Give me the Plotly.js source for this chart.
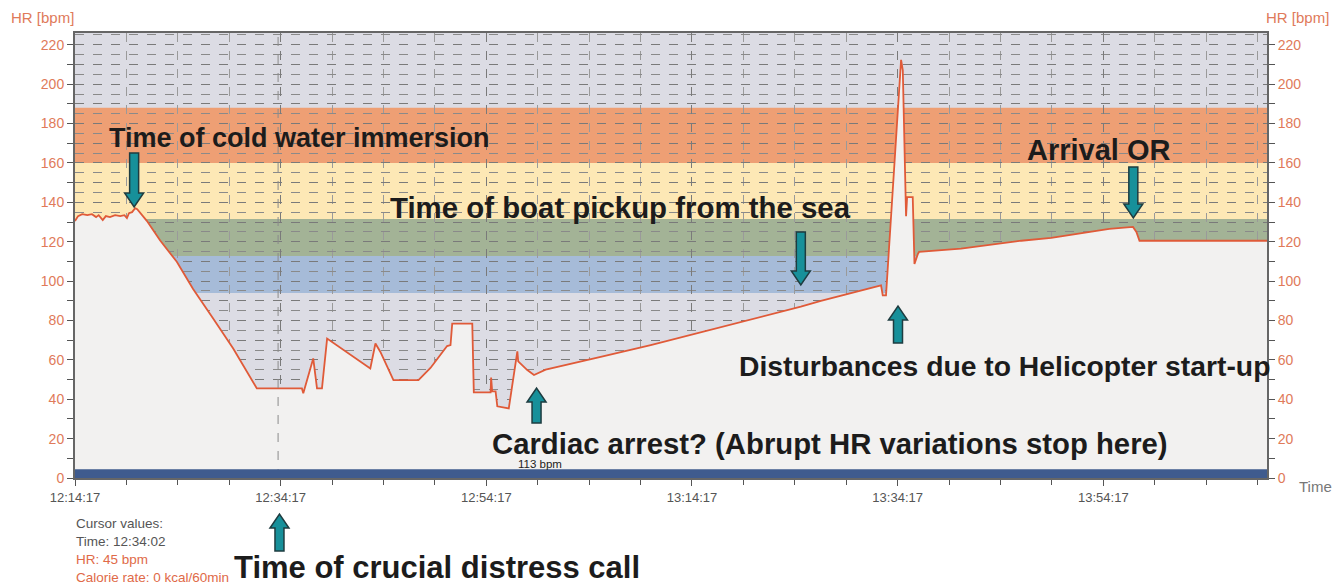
<!DOCTYPE html>
<html>
<head>
<meta charset="utf-8">
<script src="https://cdn.plot.ly/plotly-3.0.1.min.js"></script>
<style>html,body{margin:0;padding:0;background:#fff;}#chart{width:1336px;height:584px;}</style>
</head>
<body>
<div id="chart"></div>
<script>
// ---- data ----
const day = '2024-01-01 ';
const times = ['12:14:17','12:14:35','12:14:59','12:15:29','12:15:56','12:16:20','12:16:35','12:16:59','12:17:17','12:17:41','12:18:11','12:18:41','12:19:05','12:19:20','12:19:32','12:19:50','12:20:08','12:20:20',
 '12:21:16','12:22:34','12:24:11','12:25:46','12:27:43','12:29:40','12:31:58',
 '12:36:21','12:36:29','12:37:27','12:37:49','12:38:18','12:38:48','12:43:00','12:43:30','12:43:59','12:45:15','12:47:41','12:48:51',
 '12:50:28','12:50:48','12:50:58','12:52:55','12:53:00','12:53:04','12:54:42','12:54:45','12:54:51','12:55:11','12:55:21','12:56:28',
 '12:57:18','12:57:23','12:58:16','12:58:55','13:00:03',
 '13:03:27','13:05:24','13:10:16','13:15:09','13:20:01','13:24:52','13:26:49','13:29:45','13:32:40',
 '13:32:50','13:33:09','13:34:37','13:34:47','13:35:06','13:35:12','13:35:45','13:35:55','13:36:15','13:36:22',
 '13:40:27','13:46:18','13:49:13','13:53:07','13:54:52','13:57:10','13:57:30','13:57:48','14:10:17'];
const hr = [130.5,133,134,133.5,134,132.5,133.5,131,133,132.5,133.5,133,133.5,132,134.5,135,137,136.5,
 130.6,120.6,109.8,96,81,65.8,45.5,
 45.5,43,60.7,45.5,45.5,70.8,55.6,68.3,64,49.7,49.7,55.9,
 67,67.5,78.4,78.4,51.8,43.5,43.5,51,44,44,36.4,35.3,
 64.3,59.2,54.8,52.3,55,
 59,61.5,67.5,74,80.5,87,90,94,97.8,
 92.7,92.7,212.4,207,133,142.6,142.6,108.7,113.8,114.8,
 116.5,120.5,121.9,124.9,126.5,127.5,125,120.5,120.5];

// HR zones (bpm)
const zoneLow = [94, 112.8, 131.6, 160];
const zoneHigh = [112.8, 131.6, 160, 188];
const zoneColors = ['#a6bbd8', '#a3b396', '#fde8b5', '#ee9f74'];

// y tick labels
const yTickVals = [0,10,20,30,40,50,60,70,80,90,100,110,120,130,140,150,160,170,180,190,200,210,220];
const yTickText = yTickVals.map(v => v % 20 === 0 ? String(v) : '');

// annotated events
const eventTexts = ['Time of cold water immersion','Time of boat pickup from the sea','Arrival OR',
  'Disturbances due to Helicopter start-up','Cardiac arrest? (Abrupt HR variations stop here)','Time of crucial distress call'];
const eventTimes = ['12:20:02','13:24:52','13:57:12','13:34:19','12:59:10','12:34:10'];
const cursorTime = '12:34:02';

// ---- layout helpers (pixel geometry) ----
const M = {l:75, r:69, t:33, b:106};
const W = 1336, H = 584;
const PW = W - M.l - M.r, PH = H - M.t - M.b;
const px = x => (x - M.l) / PW;
const py = y => (H - M.b - y) / PH;

function arrowPath(up, len) {
  const s = up ? -1 : 1, sw = 4.5, hw = 9.5, hh = 14;
  const pts = [[-sw, len], [-sw, hh], [-hw, hh], [0, 0], [hw, hh], [sw, hh], [sw, len]];
  return 'M' + pts.map(p => p[0] + ',' + (s * p[1])).join(' L') + ' Z';
}
// arrow specs: direction and tip pixel
const arrowUp = [false, false, false, true, true, true];
const arrowTipY = [207, 285, 218, 306, 388, 514];
const arrowLen = [54, 53, 51, 37, 35, 37];
const textLeft = [107, 388, 1025, 737, 490, 232];
const textMidY = [138, 207, 150, 366, 443, 567];
const textSize = [27, 29.4, 29, 28.3, 29.3, 31];

const shapes = [];
zoneLow.forEach((lo, i) => shapes.push({type:'rect', xref:'paper', yref:'y', x0:0, x1:1, y0:lo, y1:zoneHigh[i],
  fillcolor: zoneColors[i], line:{width:0}, layer:'below'}));
shapes.push({type:'line', xref:'x', yref:'paper', x0:day+cursorTime, x1:day+cursorTime, y0:0, y1:1,
  line:{color:'#8a8a8a', width:1, dash:'dash'}, layer:'above'});
shapes.push({type:'rect', xref:'paper', yref:'y', x0:0, x1:1, y0:0, y1:4.5, fillcolor:'#3f5b8e', line:{width:0}, layer:'above'});
eventTimes.forEach((t, i) => shapes.push({type:'path', xref:'x', yref:'paper', xsizemode:'pixel', ysizemode:'pixel',
  xanchor: day + t, yanchor: py(arrowTipY[i]), path: arrowPath(arrowUp[i], arrowLen[i]),
  fillcolor:'#17909a', line:{color:'#1e3c40', width:1.5}, layer:'above'}));

const font = 'Liberation Sans, Arial, sans-serif';
const annotations = eventTexts.map((txt, i) => ({xref:'paper', yref:'paper', x:px(textLeft[i]), y:py(textMidY[i]),
  xanchor:'left', yanchor:'middle', showarrow:false, text:'<b>'+txt+'</b>', font:{family:font, size:textSize[i], color:'#1c1c1c'}}));
annotations.push({xref:'paper', yref:'paper', x:px(540), y:py(464), xanchor:'center', yanchor:'middle', showarrow:false, text:'113 bpm', font:{family:font, size:11.5, color:'#222'}});
annotations.push({xref:'paper', yref:'paper', x:px(9), y:py(18), xanchor:'left', yanchor:'middle', showarrow:false, text:'HR [bpm]', font:{family:font, size:15, color:'#e07a5a'}});
annotations.push({xref:'paper', yref:'paper', x:px(1331), y:py(18), xanchor:'right', yanchor:'middle', showarrow:false, text:'HR [bpm]', font:{family:font, size:15, color:'#e07a5a'}});
annotations.push({xref:'paper', yref:'paper', x:px(1297), y:py(486), xanchor:'left', yanchor:'middle', showarrow:false, text:'Time', font:{family:font, size:15, color:'#777'}});
const cursorLines = ['Cursor values:', 'Time: ' + cursorTime, 'HR: 45 bpm', 'Calorie rate: 0 kcal/60min'];
const cursorColors = ['#555', '#555', '#e06a48', '#e06a48'];
cursorLines.forEach((s, i) => annotations.push({xref:'paper', yref:'paper', x:px(74), y:py(523 + i*18), xanchor:'left', yanchor:'middle',
  showarrow:false, text:s, font:{family:font, size:13.5, color:cursorColors[i]}}));

const xs = times.map(t => day + t);
const traces = [
  {x: xs, y: hr, type:'scatter', mode:'lines', fill:'tozeroy', fillcolor:'#f2f1f0',
   line:{color:'#e05a38', width:1.8}, hoverinfo:'skip'},
  {x: [xs[0]], y: [hr[0]], type:'scatter', mode:'lines', yaxis:'y2', line:{width:0}, hoverinfo:'skip', showlegend:false}
];

const yCommon = {range:[0,226], tickvals:yTickVals, ticktext:yTickText, ticks:'outside', ticklen:6, tickcolor:'#555',
  showline:true, linecolor:'#666', linewidth:2, tickfont:{family:font, size:14, color:'#e07a5a'}, zeroline:false};
const layout = {
  width:W, height:H, margin:M, showlegend:false,
  paper_bgcolor:'#ffffff', plot_bgcolor:'#dcdce4',
  xaxis:{type:'date', range:[day+'12:14:17', day+'14:10:12'], tick0:day+'12:14:17', dtick:1200000,
    tickformat:'%H:%M:%S', ticks:'outside', ticklen:6, tickcolor:'#555', showline:true, linecolor:'#666', linewidth:2, mirror:true,
    showgrid:true, gridcolor:'#7a7a7a', griddash:'dash', gridwidth:1,
    minor:{dtick:300000, tick0:day+'12:14:17', ticks:'outside', ticklen:5, tickcolor:'#555', showgrid:true, gridcolor:'#9a9a9a', griddash:'dash'},
    tickfont:{family:font, size:13, color:'#555'}, zeroline:false},
  yaxis:Object.assign({}, yCommon, {showgrid:true, gridcolor:'#7a7a7a', griddash:'dash', gridwidth:1,
    minor:{dtick:5, showgrid:true, gridcolor:'#8a8a8a', griddash:'dash', ticks:''}}),
  yaxis2:Object.assign({}, yCommon, {overlaying:'y', side:'right', showgrid:false}),
  shapes: shapes, annotations: annotations
};
Plotly.newPlot('chart', traces, layout, {staticPlot:true});
</script>
</body>
</html>
